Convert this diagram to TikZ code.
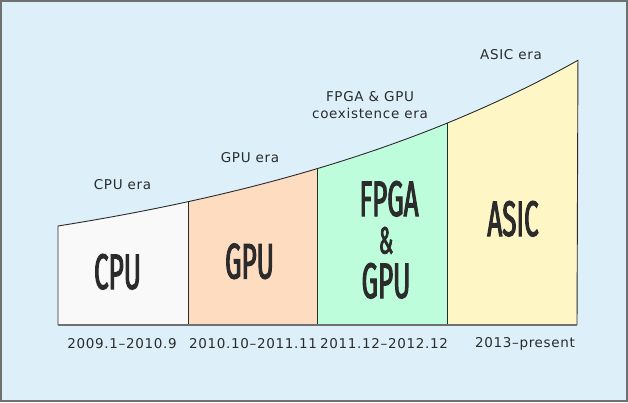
\documentclass[tikz,border=0pt]{standalone}
\usepackage{fontspec}
\newfontfamily\erafont[LetterSpace=5]{DejaVu Sans}
\newfontfamily\chipfont[FakeStretch=0.52,FakeBold=2]{Fira Sans}
\definecolor{bgblue}{HTML}{DDF0FA}
\definecolor{framegray}{HTML}{707070}
\definecolor{cpucol}{HTML}{F9F9F9}
\definecolor{gpucol}{HTML}{FDDCC0}
\definecolor{fpgacol}{HTML}{BEFDDC}
\definecolor{asiccol}{HTML}{FEF7C5}
\definecolor{inkgray}{HTML}{2B2B2B}
\begin{document}
\begin{tikzpicture}[x=1pt,y=1pt,
	era/.style={font=\erafont\fontsize{13.5}{16}\selectfont,text=inkgray,align=center,inner sep=0pt},
	chip/.style={font=\chipfont\fontsize{50}{41}\selectfont,text=inkgray,anchor=base,inner sep=0pt,text height=34pt,text depth=0pt},
	growth/.style={domain=#1,samples=40,variable=\t}]
	\useasboundingbox (0,0) rectangle (628,402);
	%frame
	\draw[framegray,line width=2pt,fill=bgblue] (1,1) rectangle (627,401);
	
	%era blocks
	\fill[cpucol] (58,77) -- plot[growth=0:1] ({58+130*\t},{110.3+65.7*exp(0.3148*\t)}) -- (188,77) -- cycle; %CPU
	\fill[gpucol] (188,77) -- plot[growth=1:2] ({58+130*\t},{110.3+65.7*exp(0.3148*\t)}) -- (317,77) -- cycle; %GPU
	\fill[fpgacol] (317,77) -- plot[growth=2:3] ({58+130*\t},{110.3+65.7*exp(0.3148*\t)}) -- (447,77) -- cycle; %FPGA
	\fill[asiccol] (447,77) -- plot[growth=3:4] ({58+130*\t},{110.3+65.7*exp(0.3148*\t)}) -- (577,77) -- cycle; %ASIC
	
	%outline
	\draw[inkgray,line width=0.9pt] (58,77) -- plot[growth=0:4] ({58+130*\t},{110.3+65.7*exp(0.3148*\t)}) -- (577,77);
	\draw[inkgray,line width=0.9pt] (188,77) -- (188,200.3) (317,77) -- (317,233.7) (447,77) -- (447,279); %dividers
	\draw[framegray,line width=1.6pt] (58,77) -- (577,77); %base
	
	%chip labels
	\node[chip] (cpu) at (117.5,113) {CPU};
	\node[chip] (gpu) at (249.5,123.5) {GPU};
	\node[chip] (fpga) at (389,186) {FPGA};
	\node[chip,font=\chipfont\fontsize{38}{38}\selectfont,text height=26pt] (amp) at (386,148.5) {\&};
	\node[chip] (fpgagpu) at (386,104) {GPU};
	\node[chip] (asic) at (513,166) {ASIC};
	
	%era labels
	\node[era] (cpuera) at (122.5,217) {CPU era};
	\node[era] (gpuera) at (250,244.3) {GPU era};
	\node[era] (fpgaera) at (370,296.5) {FPGA \& GPU\\[1pt]coexistence era};
	\node[era] (asicera) at (511,347.7) {ASIC era};
	
	%dates
	\node[era] (cpudate) at (122,58) {2009.1–2010.9};
	\node[era] (gpudate) at (253,58) {2010.10–2011.11};
	\node[era] (fpgadate) at (384,58) {2011.12–2012.12};
	\node[era] (asicdate) at (525,58) {2013–present};
\end{tikzpicture}
\end{document}
